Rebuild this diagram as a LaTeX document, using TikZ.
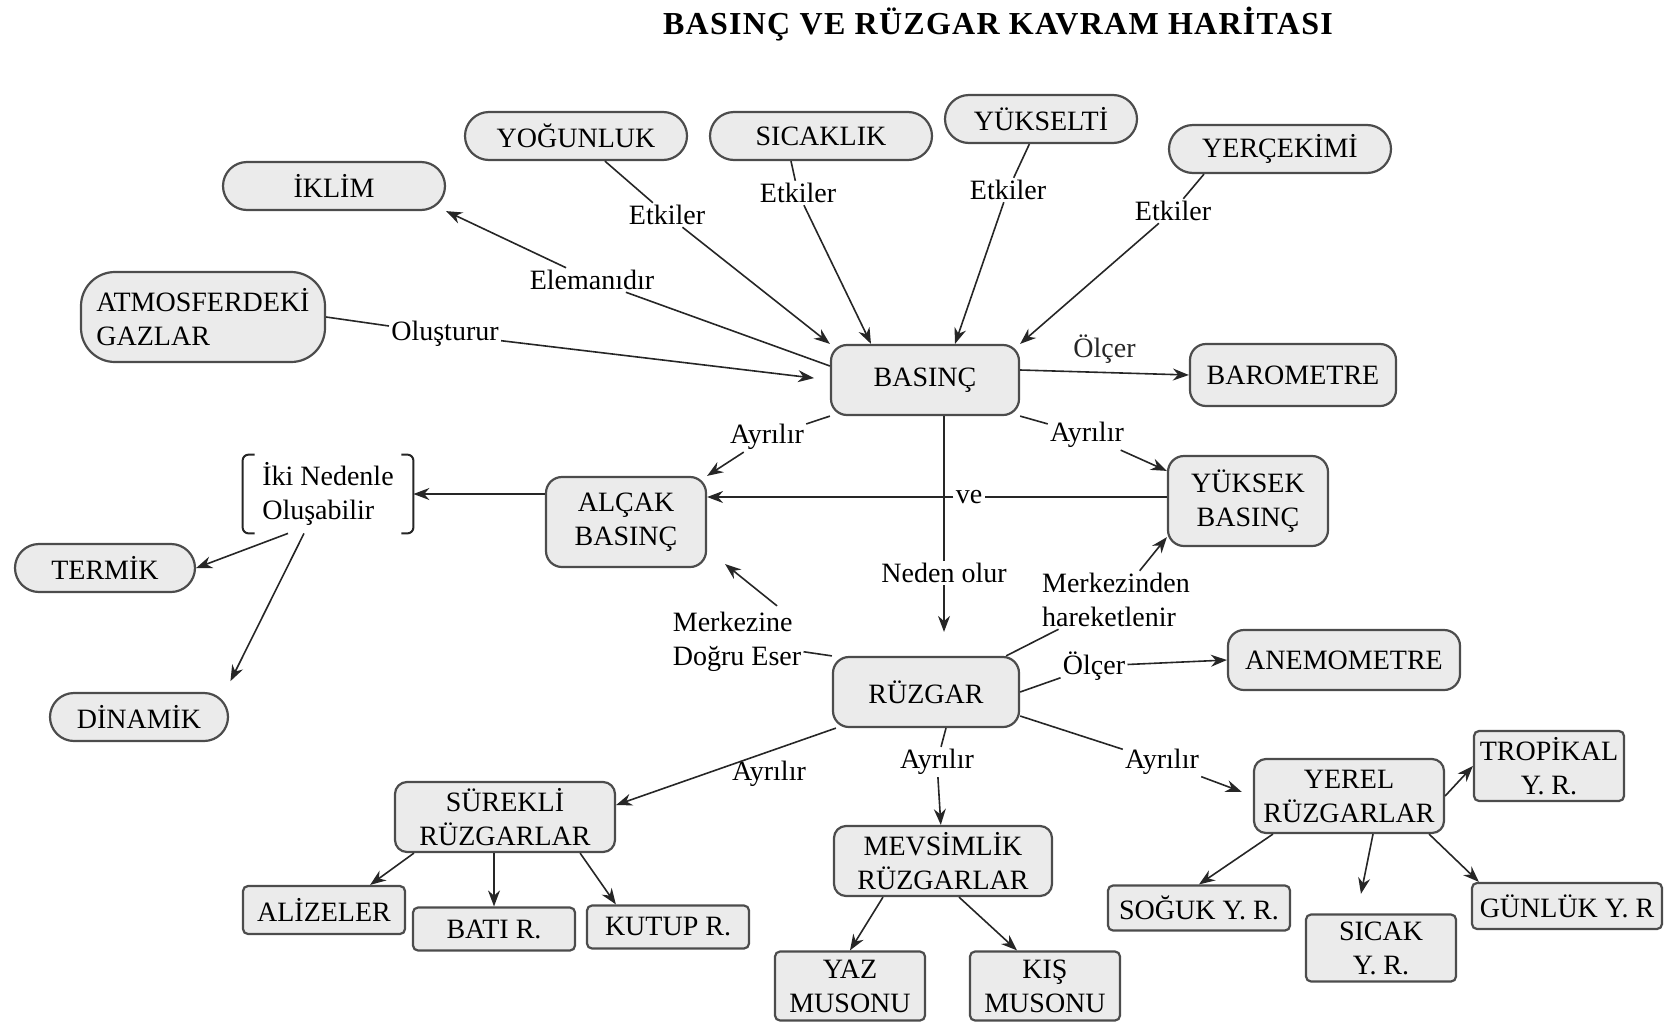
\documentclass[tikz,border=0pt]{standalone}
\usepackage{fontspec}
\setmainfont{Liberation Serif}
\usetikzlibrary{arrows.meta}

\begin{document}
\begin{tikzpicture}[
    x=0.5pt, y=-0.5pt,
    font=\fontsize{14}{17}\selectfont,
    box/.style={draw=black!70, line width=1.1pt, fill=black!8, rounded corners=6pt, align=center, inner sep=2pt},
    pill/.style={box, rounded corners=12pt},
    leaf/.style={box, rounded corners=2.5pt},
    lbl/.style={inner sep=1pt, align=center},
    arr/.style={-{Stealth[length=8pt, width=6pt]}, line width=0.8pt, black!85},
    ln/.style={line width=0.8pt, black!85}
]
\useasboundingbox (0,0) rectangle (1670,1023);

\node[font=\bfseries\fontsize{16}{19}\selectfont\addfontfeatures{LetterSpace=4}] (title) at (998,24) {BASINÇ VE RÜZGAR KAVRAM HARİTASI};

\node[pill, minimum width=111pt, minimum height=24pt] (yogunluk) at (576,136) {YOĞUNLUK};
\node[pill, minimum width=111pt, minimum height=24pt] (sicaklik) at (821,136) {SICAKLIK};
\node[pill, minimum width=96pt, minimum height=24pt] (yukselti) at (1041,119) {YÜKSELTİ};
\node[pill, minimum width=111pt, minimum height=24pt] (yercekimi) at (1280,149) {YERÇEKİMİ};
\node[pill, minimum width=111pt, minimum height=24pt] (iklim) at (334,186) {İKLİM};
\node[pill, rounded corners=17pt, align=left, minimum width=122pt, minimum height=45pt] (atmos) at (203,317) {ATMOSFERDEKİ\\GAZLAR};

\node[box, rounded corners=8pt, minimum width=94pt, minimum height=35pt] (basinc) at (925,380) {BASINÇ};
\node[box, rounded corners=8pt, minimum width=103pt, minimum height=31pt] (barometre) at (1293,375) {BAROMETRE};
\node[box, rounded corners=8pt, minimum width=80pt, minimum height=45pt] (yuksek) at (1248,501) {YÜKSEK\\BASINÇ};
\node[box, rounded corners=8pt, minimum width=80pt, minimum height=45pt] (alcak) at (626,522) {ALÇAK\\BASINÇ};
\node[lbl, align=left, minimum width=85pt, minimum height=39pt] (iki) at (328,494) {İki Nedenle\\Oluşabilir};
\node[pill, minimum width=90pt, minimum height=24pt] (termik) at (105,568) {TERMİK};
\node[pill, minimum width=89pt, minimum height=24pt] (dinamik) at (139,717) {DİNAMİK};

\node[box, rounded corners=8pt, minimum width=93pt, minimum height=35pt] (ruzgar) at (926,692) {RÜZGAR};
\node[box, rounded corners=8pt, minimum width=116pt, minimum height=30pt] (anemometre) at (1344,660) {ANEMOMETRE};

\node[box, minimum width=110pt, minimum height=35pt] (surekli) at (505,817) {SÜREKLİ\\RÜZGARLAR};
\node[leaf, minimum width=81pt, minimum height=24pt] (alizeler) at (324,910) {ALİZELER};
\node[leaf, minimum width=81pt, minimum height=21.5pt] (bati) at (494,929) {BATI R.};
\node[leaf, minimum width=81pt, minimum height=21.5pt] (kutup) at (668,927) {KUTUP R.};

\node[box, minimum width=109pt, minimum height=35pt] (mevsimlik) at (943,861) {MEVSİMLİK\\RÜZGARLAR};
\node[leaf, minimum width=75pt, minimum height=34.5pt] (yaz) at (850,986) {YAZ\\MUSONU};
\node[leaf, minimum width=75pt, minimum height=34.5pt] (kis) at (1045,986) {KIŞ\\MUSONU};

\node[box, minimum width=95pt, minimum height=37pt] (yerel) at (1349,796) {YEREL\\RÜZGARLAR};
\node[leaf, minimum width=75pt, minimum height=35pt] (tropikal) at (1549,766) {TROPİKAL\\Y. R.};
\node[leaf, minimum width=91pt, minimum height=22.5pt] (soguk) at (1199,908) {SOĞUK Y. R.};
\node[leaf, minimum width=75pt, minimum height=33.5pt] (sicak) at (1381,948) {SICAK\\Y. R.};
\node[leaf, minimum width=95pt, minimum height=23pt] (gunluk) at (1567,906) {GÜNLÜK Y. R};

\node[lbl] (etk1) at (667,215) {Etkiler};
\node[lbl] (etk2) at (798,193) {Etkiler};
\node[lbl] (etk3) at (1008,190) {Etkiler};
\node[lbl] (etk4) at (1173,211) {Etkiler};
\node[lbl] (eleman) at (592,280) {Elemanıdır};
\node[lbl] (olustur) at (445,334) {Oluşturur};
\node[lbl] (ayr1) at (767,437) {Ayrılır};
\node[lbl] (ayr2) at (1087,435) {Ayrılır};
\node[lbl] (ve) at (969,497) {ve};
\node[lbl] (neden) at (944,573) {Neden olur};
\node[lbl, align=left] (merkezden) at (1116,600) {Merkezinden\\hareketlenir};
\node[lbl, align=left] (merkeze) at (737,642) {Merkezine\\Doğru Eser};
\node[lbl] (olcer2) at (1094,666) {Ölçer};
\node[lbl] (ayr3) at (769,774) {Ayrılır};
\node[lbl] (ayr4) at (937,762) {Ayrılır};
\node[lbl] (ayr5) at (1162,762) {Ayrılır};

\draw[ln] (yogunluk) -- (etk1);
\draw[arr] (etk1) -- (basinc.north west);
\draw[ln] ([xshift=-15pt]sicaklik.south) -- (etk2);
\draw[arr] (etk2) -- ([xshift=-27pt]basinc.north);
\draw[ln] (yukselti) -- (etk3);
\draw[arr] (etk3) -- ([xshift=15pt]basinc.north);
\draw[ln] ([xshift=-38pt]yercekimi.south) -- (etk4);
\draw[arr] (etk4) -- (basinc.north east);
\draw[ln] ([yshift=7pt]basinc.west) -- (eleman);
\draw[arr] (eleman) -- (iklim.south east);
\draw[ln] (atmos.east) -- (olustur);
\draw[arr, shorten >=8pt] (olustur) -- (basinc.west);
\draw[arr] ([yshift=5pt]basinc.east) -- node[lbl, above=3pt] (olcer1) {Ölçer} (barometre.west);
\draw[ln] (basinc.south west) -- (ayr1);
\draw[arr] (ayr1) -- (alcak.north east);
\draw[ln] (basinc.south east) -- (ayr2);
\draw[arr] (ayr2) -- ([yshift=-8pt]yuksek.north west);
\draw[ln] (ve -| yuksek.west) -- (ve);
\draw[arr] (ve) -- (ve -| alcak.east);
\draw[ln] (neden |- basinc.south) -- (neden);
\draw[arr, shorten >=12pt] (neden) -- (neden |- ruzgar.north);
\draw[ln] ([xshift=-7pt]ruzgar.north east) -- (merkezden);
\draw[arr] (merkezden) -- ([yshift=5pt]yuksek.south west);
\draw[ln] (ruzgar.north west) -- (merkeze);
\draw[arr] ([xshift=20pt,yshift=2pt]merkeze.north) -- ([xshift=9pt,yshift=2pt]alcak.south east);
\draw[ln] (ruzgar.east) -- (olcer2);
\draw[arr] (olcer2) -- (anemometre.west);
\draw[arr] (alcak.west |- iki.east) -- (iki.east);
\draw[ln, line width=1pt, rounded corners=3pt] ([xshift=6pt]iki.north west) -- (iki.north west) -- (iki.south west) -- ([xshift=6pt]iki.south west);
\draw[ln, line width=1pt, rounded corners=3pt] ([xshift=-6pt]iki.north east) -- (iki.north east) -- (iki.south east) -- ([xshift=-6pt]iki.south east);
\draw[arr] ([xshift=-20pt]iki.south) -- (termik.east);
\draw[arr, shorten >=6pt] ([xshift=-12pt]iki.south) -- ([xshift=-2pt]dinamik.north east);

\draw[arr] ([xshift=2pt]ruzgar.south west) -- ([yshift=6pt]surekli.east);
\draw[ln] ([xshift=10pt]ruzgar.south) -- (ayr4);
\draw[arr] (ayr4) -- (mevsimlik);
\draw[ln] ([yshift=-12pt]ruzgar.east) -- (ayr5);
\draw[arr, shorten >=6pt] (ayr5) -- (yerel.west);

\draw[arr] ([xshift=10pt]surekli.south west) -- ([xshift=-18pt]alizeler.north east);
\draw[arr] (bati.north |- surekli.south) -- (bati.north);
\draw[arr] ([xshift=-18pt]surekli.south east) -- ([xshift=15pt]kutup.north west);
\draw[arr] ([xshift=-30pt]mevsimlik.south) -- (yaz.north);
\draw[arr] ([xshift=8pt]mevsimlik.south) -- ([xshift=-14pt]kis.north);
\draw[arr] ([xshift=10pt]yerel.south west) -- (soguk.north);
\draw[arr, shorten >=10pt] ([xshift=12pt]yerel.south) -- ([xshift=-12pt]sicak.north);
\draw[arr] ([xshift=-8pt]yerel.south east) -- ([xshift=4pt]gunluk.north west);
\draw[arr] (yerel.east) -- (tropikal.west);
\end{tikzpicture}
\end{document}
